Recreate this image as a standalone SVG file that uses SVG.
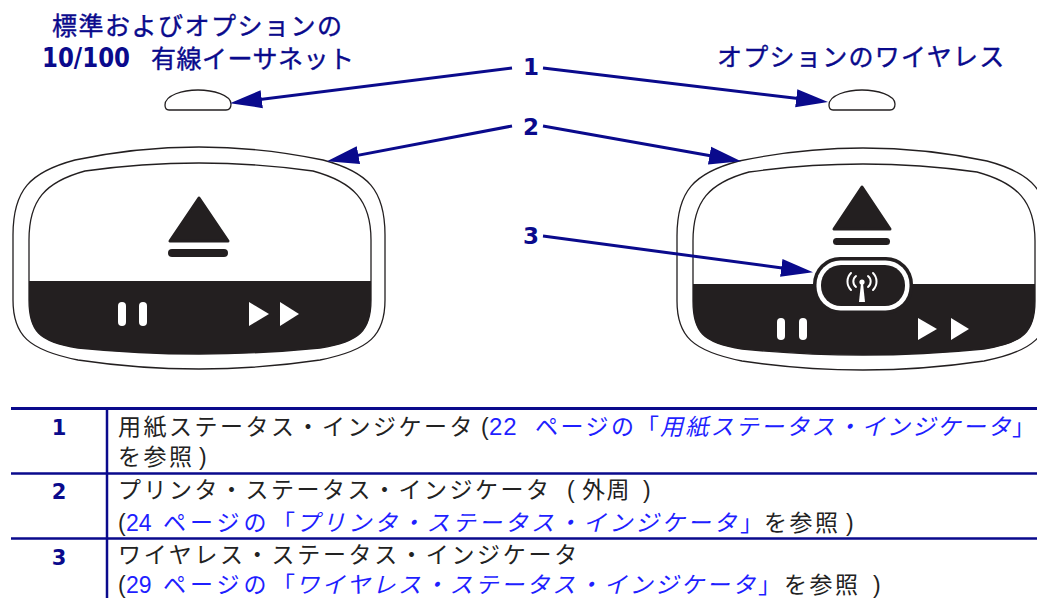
<svg xmlns="http://www.w3.org/2000/svg" width="1037" height="598" viewBox="0 0 1037 598">
  <style>
    .hdr { font-family: "Noto Sans CJK JP", sans-serif; font-size: 25px; fill: #0a0a8c; stroke: #0a0a8c; stroke-width: 0.4px; }
    .hdrnum { font-family: "DejaVu Sans", sans-serif; font-weight: bold; font-size: 26px; fill: #0a0a8c; }
    .num { font-family: "DejaVu Sans", sans-serif; font-weight: bold; font-size: 23px; fill: #0a0a8c; text-anchor: middle; }
    .tnum { font-family: "DejaVu Sans", sans-serif; font-weight: bold; font-size: 21px; fill: #0a0a8c; text-anchor: middle; }
    .jp { font-family: "Noto Sans CJK JP", sans-serif; font-size: 23px; fill: #222; letter-spacing: 2.5px; }
    .lat { font-family: "Liberation Sans", sans-serif; font-size: 23px; fill: #222; letter-spacing: 0; }
    .link { fill: #1f1fff; }
    .it { font-style: italic; }
    .outline { fill: #fff; stroke: #231f20; stroke-width: 1.3; }
    .dark { fill: #231f20; }
    .glyph { fill: #fff; }
    .conn { stroke: #0a0a8c; stroke-width: 3; fill: none; marker-end: url(#arrow); }
    .rule { stroke: #0a0a8c; fill: none; }
  </style>
  <defs>
    <marker id="arrow" markerUnits="userSpaceOnUse" markerWidth="34" markerHeight="20" refX="21" refY="10" orient="auto">
      <path d="M0,1 L32,10 L0,19 Z" fill="#0a0a8c"/>
    </marker>
    <!-- bezel and inner panel of an indicator cluster -->
    <path id="bezel" d="M 13,235 C 13,190 30,172 75,160 Q 199,134 323,160 C 368,172 385,190 385,235 L 385,300 C 385,335 370,350 320,360 Q 199,378 78,360 C 28,350 13,335 13,300 Z"/>
    <path id="panel" d="M 29,240 C 29,200 45,182 85,171 Q 199,155 313,171 C 353,182 371,200 371,240 L 371,300 C 371,330 360,342 320,348 Q 199,360 78,348 C 38,342 29,330 29,300 Z"/>
    <path id="led" d="M 169,110 Q 165,110 165,105 C 165,95 183,90 198,90 C 213,90 231,95 231,104 Q 231,110 226,110 Z"/>
  </defs>

  <rect width="1037" height="598" fill="#fff"/>

  <!-- headings -->
  <g id="label-ethernet">
    <text class="hdr" x="52" y="35" style="letter-spacing:1.5px">標準およびオプションの</text>
    <text class="hdrnum" x="42" y="67" textLength="88" lengthAdjust="spacingAndGlyphs">10/100</text>
    <text class="hdr" x="151" y="68" style="letter-spacing:0.5px">有線イーサネット</text>
  </g>
  <g id="label-wireless">
    <text class="hdr" x="717" y="66" style="letter-spacing:1.3px">オプションのワイヤレス</text>
  </g>

  <!-- media status LEDs -->
  <g id="led-ethernet">
    <use href="#led" class="outline"/>
  </g>
  <g id="led-wireless">
    <use href="#led" class="outline" transform="translate(664,0)"/>
  </g>

  <!-- standard control panel -->
  <g id="panel-standard">
    <use href="#bezel" class="outline"/>
    <use href="#panel" class="outline"/>
    <path class="dark" d="M 29,281 L 371,281 L 371,300 C 371,330 360,342 320,348 Q 199,360 78,348 C 38,342 29,330 29,300 Z"/>
    <polygon class="dark" points="199,198 170,241 228,241" stroke="#231f20" stroke-width="3" stroke-linejoin="round"/>
    <rect class="dark" x="168" y="249" width="60" height="8" rx="4"/>
    <rect class="glyph" x="118" y="302" width="8" height="24" rx="4"/>
    <rect class="glyph" x="139" y="302" width="8" height="24" rx="4"/>
    <polygon class="glyph" points="249,302 269,314 249,326"/>
    <polygon class="glyph" points="280,302 299,314 280,326"/>
  </g>

  <!-- wireless control panel -->
  <g id="panel-wireless">
    <g transform="translate(664,1)">
      <use href="#bezel" class="outline"/>
      <use href="#panel" class="outline"/>
      <path class="dark" d="M 29,283 L 371,283 L 371,300 C 371,330 360,342 320,348 Q 199,360 78,348 C 38,342 29,330 29,300 Z"/>
    </g>
    <polygon class="dark" points="862,187 834,229 890,229" stroke="#231f20" stroke-width="3" stroke-linejoin="round"/>
    <rect class="dark" x="833" y="238" width="57" height="7" rx="3.5"/>
    <rect class="glyph" x="777" y="318" width="8" height="22" rx="4"/>
    <rect class="glyph" x="799" y="318" width="8" height="22" rx="4"/>
    <polygon class="glyph" points="918,318 937,329 918,340"/>
    <polygon class="glyph" points="951,318 969,329 951,340"/>
    <!-- wireless indicator button -->
    <rect class="dark" x="813" y="257" width="100" height="57" rx="27"/>
    <rect fill="#fff" x="816.5" y="260.5" width="93" height="50" rx="24"/>
    <rect class="dark" x="821" y="265" width="84" height="41" rx="20"/>
    <g fill="none" stroke="#fff" stroke-width="2" stroke-linecap="round">
      <path d="M 856,276 A 7,7 0 0 0 856,287"/>
      <path d="M 851,273 A 12,12 0 0 0 851,290"/>
      <path d="M 868,276 A 7,7 0 0 1 868,287"/>
      <path d="M 873,273 A 12,12 0 0 1 873,290"/>
    </g>
    <circle class="glyph" cx="862" cy="282" r="2.6"/>
    <polygon class="glyph" points="861,283 863,283 865,302 859,302"/>
  </g>

  <!-- callout connectors -->
  <g id="connectors">
    <line class="conn" x1="512" y1="68" x2="240.9" y2="101.8"/>
    <line class="conn" x1="543" y1="68" x2="817.1" y2="100.8"/>
    <line class="conn" x1="512" y1="126" x2="337.8" y2="159.1"/>
    <line class="conn" x1="543" y1="126" x2="730.2" y2="159.3"/>
    <line class="conn" x1="543" y1="236" x2="802.1" y2="270.7"/>
  </g>
  <g id="callout-labels">
    <text class="num" x="531" y="75">1</text>
    <text class="num" x="531" y="135">2</text>
    <text class="num" x="531" y="244">3</text>
  </g>

  <!-- legend -->
  <g id="legend-table">
    <line class="rule" x1="11" y1="408.5" x2="1037" y2="408.5" stroke-width="3"/>
    <line class="rule" x1="11" y1="473.5" x2="1037" y2="473.5" stroke-width="2.5"/>
    <line class="rule" x1="11" y1="538.5" x2="1037" y2="538.5" stroke-width="2.5"/>
    <line class="rule" x1="107" y1="408" x2="107" y2="598" stroke-width="2.5"/>

    <text class="tnum" x="59" y="435">1</text>
    <text class="tnum" x="59" y="499">2</text>
    <text class="tnum" x="59" y="565">3</text>

    <text y="435"><tspan class="jp" x="118">用紙ステータス・インジケータ</tspan><tspan class="lat" x="481">(</tspan><tspan class="lat link" x="489" style="font-size:24px;letter-spacing:1px">22</tspan><tspan class="jp link" x="535" style="letter-spacing:2.5px">ページの</tspan><tspan class="jp link" x="636">「</tspan><tspan class="jp link it" x="660" style="letter-spacing:2.2px">用紙ステータス・インジケータ</tspan><tspan class="jp link" x="1012">」</tspan></text>
    <text y="465"><tspan class="jp" x="118">を参照</tspan><tspan class="lat" x="199">)</tspan></text>

    <text y="498"><tspan class="jp" x="118">プリンタ・ステータス・インジケータ</tspan><tspan class="lat" x="567">(</tspan><tspan class="jp" x="582" style="letter-spacing:1.5px">外周</tspan><tspan class="lat" x="643">)</tspan></text>
    <text y="531"><tspan class="lat" x="118">(</tspan><tspan class="lat link" x="126">24</tspan><tspan class="jp link" x="163" style="letter-spacing:4px">ページの</tspan><tspan class="jp link" x="272">「</tspan><tspan class="jp link it" x="296" style="letter-spacing:3.1px">プリンタ・ステータス・インジケータ</tspan><tspan class="jp link" x="740">」</tspan><tspan class="jp" x="764">を参照</tspan><tspan class="lat" x="846">)</tspan></text>

    <text y="563"><tspan class="jp" x="118" style="letter-spacing:2.7px">ワイヤレス・ステータス・インジケータ</tspan></text>
    <text y="593"><tspan class="lat" x="118">(</tspan><tspan class="lat link" x="126">29</tspan><tspan class="jp link" x="163" style="letter-spacing:4px">ページの</tspan><tspan class="jp link" x="272">「</tspan><tspan class="jp link it" x="296" style="letter-spacing:2.7px">ワイヤレス・ステータス・インジケータ</tspan><tspan class="jp link" x="758">」</tspan><tspan class="jp" x="784">を参照</tspan><tspan class="lat" x="873">)</tspan></text>
  </g>
</svg>
